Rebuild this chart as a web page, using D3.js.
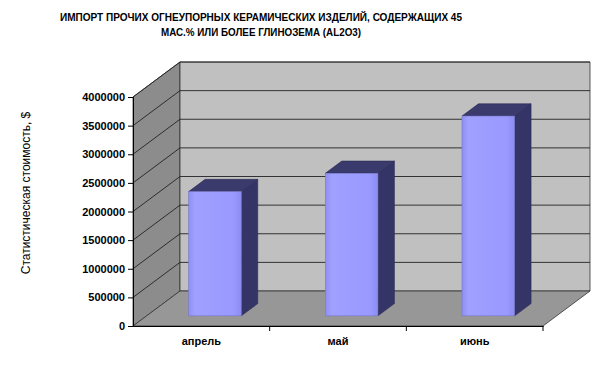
<!DOCTYPE html>
<html>
<head>
<meta charset="utf-8">
<script src="https://cdn.jsdelivr.net/npm/d3@7"></script>
<style>
  body { margin: 0; background: #fff; }
  svg { font-family: Arial, "Liberation Sans", sans-serif; }
</style>
</head>
<body>
<script>
// Data
const categories = ["апрель", "май", "июнь"];
const values = [2170000, 2490000, 3490000];
const yTicks = [0, 500000, 1000000, 1500000, 2000000, 2500000, 3000000, 3500000, 4000000];
const titleLines = [
    "ИМПОРТ ПРОЧИХ ОГНЕУПОРНЫХ КЕРАМИЧЕСКИХ ИЗДЕЛИЙ, СОДЕРЖАЩИХ 45",
    "МАС.% ИЛИ БОЛЕЕ ГЛИНОЗЕМА (AL2O3)"
];
const titleWidths = [402, 200];
const yTitle = "Статистическая стоимость, $";

const width = 600, height = 366;

// front plane of the 3D box, and the depth offset to the back wall
const front = { left: 133, right: 543, bottom: 326, top: 97 };
const depth = { dx: 47, dy: -35 };

// project a point of the front plane back by a depth fraction
const proj = (x, y, d) => [x + d * depth.dx, y + d * depth.dy];

const svg = d3.select("body").append("svg")
    .attr("width", width)
    .attr("height", height);

const x = d3.scaleBand()
    .domain(categories)
    .range([front.left, front.right])
    .paddingInner(0.615)
    .paddingOuter(0.3075);

const y = d3.scaleLinear()
    .domain([0, 4000000])
    .range([front.bottom, front.top]);

const poly = pts => pts.map(p => p.join(",")).join(" ");

// Walls
const g = svg.append("g");

g.append("polygon") // left wall
    .attr("points", poly([
        [front.left, y(0)], proj(front.left, y(0), 1),
        proj(front.left, y(4000000), 1), [front.left, y(4000000)]
    ]))
    .attr("fill", "#8c8c8c")
    .attr("stroke", "#333").attr("stroke-width", 0.8);

g.append("polygon") // back wall
    .attr("points", poly([
        proj(front.left, y(0), 1), proj(front.right, y(0), 1),
        proj(front.right, y(4000000), 1), proj(front.left, y(4000000), 1)
    ]))
    .attr("fill", "#c0c0c0")
    .attr("stroke", "#333").attr("stroke-width", 0.8);

g.append("polygon") // floor
    .attr("points", poly([
        [front.left, y(0)], [front.right, y(0)],
        proj(front.right, y(0), 1), proj(front.left, y(0), 1)
    ]))
    .attr("fill", "#979797")
    .attr("stroke", "#333").attr("stroke-width", 0.8);

// Gridlines on left and back walls
yTicks.filter(t => t > 0).forEach(t => {
    const a = [front.left, y(t)];
    const b = proj(front.left, y(t), 1);
    const c = proj(front.right, y(t), 1);
    g.append("path")
        .attr("d", `M${a}L${b}L${c}`)
        .attr("fill", "none")
        .attr("stroke", "#222")
        .attr("stroke-width", 0.9);
});

// Y axis
const yAxis = svg.append("g")
    .attr("transform", `translate(${front.left},0)`)
    .call(d3.axisLeft(y).tickValues(yTicks).tickSize(5).tickPadding(3).tickFormat(d3.format("d")));
yAxis.select(".domain").attr("stroke", "#000");
yAxis.selectAll("line").attr("stroke", "#000");
yAxis.selectAll("text")
    .attr("font-family", "Arial, 'Liberation Sans', sans-serif")
    .attr("font-size", 11).attr("font-weight", "bold").attr("fill", "#000");

// X axis (front edge of the floor)
const xAxis = svg.append("g")
    .attr("transform", `translate(0,${front.bottom})`)
    .call(d3.axisBottom(x).tickSize(0).tickPadding(11));
xAxis.select(".domain").attr("stroke", "#000");
xAxis.selectAll("text")
    .attr("font-family", "Arial, 'Liberation Sans', sans-serif")
    .attr("font-size", 11).attr("font-weight", "bold").attr("fill", "#000");

// category separator ticks
const step = x.step();
[1, 2, 3].forEach(i => {
    const tx = front.left + i * step;
    svg.append("line")
        .attr("x1", tx).attr("x2", tx)
        .attr("y1", front.bottom).attr("y2", front.bottom + 5)
        .attr("stroke", "#000");
});

// Bars
const defs = svg.append("defs");
const grad = defs.append("linearGradient").attr("id", "barFront")
    .attr("x1", "0%").attr("x2", "100%").attr("y1", "0%").attr("y2", "0%");
grad.append("stop").attr("offset", "0%").attr("stop-color", "#8f8ff2");
grad.append("stop").attr("offset", "12%").attr("stop-color", "#a0a0ff");
grad.append("stop").attr("offset", "85%").attr("stop-color", "#9999ff");
grad.append("stop").attr("offset", "100%").attr("stop-color", "#8c8cf0");

const d0 = 0.29, d1 = 0.64;

categories.forEach((c, i) => {
    const xl = x(c), xr = x(c) + x.bandwidth();
    const yb = y(0), yt = y(values[i]);
    const fl = proj(xl, yb, d0), fr = proj(xr, yb, d0);
    const tl = proj(xl, yt, d0), tr = proj(xr, yt, d0);
    const br = proj(xr, yb, d1), btr = proj(xr, yt, d1), btl = proj(xl, yt, d1);

    svg.append("polygon") // side
        .attr("points", poly([tr, fr, br, btr]))
        .attr("fill", "#343466")
        .attr("stroke", "#2a2a55").attr("stroke-width", 0.6);

    svg.append("polygon") // top
        .attr("points", poly([tl, tr, btr, btl]))
        .attr("fill", "#3a3a6c")
        .attr("stroke", "#2a2a55").attr("stroke-width", 0.6);

    svg.append("rect") // front
        .attr("x", tl[0]).attr("y", tl[1])
        .attr("width", fr[0] - fl[0]).attr("height", fl[1] - tl[1])
        .attr("fill", "url(#barFront)")
        .attr("stroke", "#7777cc").attr("stroke-width", 0.6);
});

// Title
svg.selectAll(".title")
    .data(titleLines)
    .enter()
    .append("text")
    .attr("class", "title")
    .attr("x", 261)
    .attr("y", (d, i) => 21 + i * 14.5)
    .attr("text-anchor", "middle")
    .attr("font-size", 11.5).attr("font-weight", "bold")
    .attr("textLength", (d, i) => titleWidths[i])
    .attr("lengthAdjust", "spacingAndGlyphs")
    .text(d => d);

// Y axis title
svg.append("text")
    .attr("transform", `translate(30,193) rotate(-90)`)
    .attr("text-anchor", "middle")
    .attr("font-size", 12)
    .text(yTitle);
</script>
</body>
</html>
